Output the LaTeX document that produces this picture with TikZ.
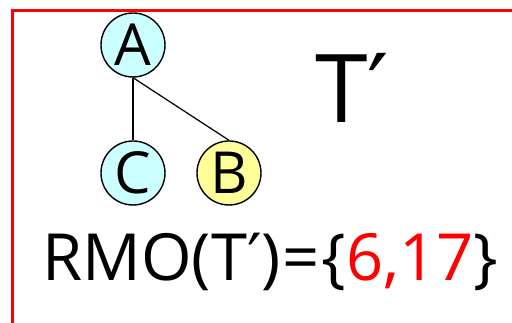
\documentclass[tikz,border=0pt]{standalone}
\usepackage{fontspec}
\setmainfont{Open Sans}
\newfontfamily\primefont{DejaVu Sans}
\newcommand{\tprime}{{\primefont ′}}
\definecolor{TreeCyan}{HTML}{CCFFFF}
\definecolor{TreeYellow}{HTML}{FFFF99}
\definecolor{FrameRed}{HTML}{FF0000}

\begin{document}
\begin{tikzpicture}[x=0.02cm,y=0.02cm,
    vert/.style={circle,draw=black,line width=0.8pt,minimum size=1.28cm,inner sep=0pt,
      font=\fontsize{33}{33}\selectfont}]
    \useasboundingbox (0,0) rectangle (512,323);
    \draw[FrameRed,line width=2pt] (12.5,-5) -- (12.5,312.5) -- (520,312.5);
    \node[vert,fill=TreeCyan] (a) at (133,278) {A};
    \node[vert,fill=TreeCyan] (c) at (133,150) {C};
    \node[vert,fill=TreeYellow] (b) at (229,150) {B};
    \draw[line width=0.7pt] (a.south) -- (c.north);
    \draw[line width=0.7pt] (a.south) -- (b.north);
    \node[anchor=base west,inner sep=0pt,font=\fontsize{54}{54}\selectfont] (tname) at (315,200) {T\tprime};
    \node[anchor=base west,inner sep=0pt,font=\fontsize{37}{37}\selectfont] (rmo) at (42,42)
      {RMO(T\tprime)\kern1pt=\kern1pt\{\textcolor{FrameRed}{6,17}\}};
  \end{tikzpicture}
\end{document}
